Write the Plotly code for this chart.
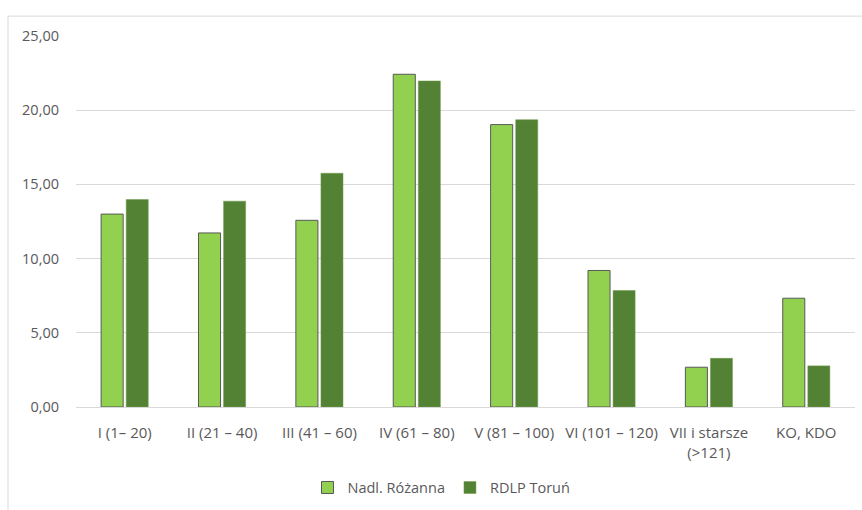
import plotly.graph_objects as go

# Age classes of stands and their area shares (%)
categories = [
    "I (1– 20)", "II (21 – 40)", "III (41 – 60)", "IV (61 – 80)",
    "V (81 – 100)", "VI (101 – 120)", "VII i starsze<br>(>121)", "KO, KDO",
]
nadl_rozanna = [13.00, 11.73, 12.58, 22.42, 19.03, 9.20, 2.68, 7.33]
rdlp_torun = [13.98, 13.87, 15.75, 21.97, 19.36, 7.85, 3.28, 2.77]

y_ticks = [0, 5, 10, 15, 20, 25]

FONT = "Open Sans, Lato, sans-serif"
TEXT = "#595959"
GRID = "#D9D9D9"

fig = go.Figure()
fig.add_trace(go.Bar(
    name="Nadl. Różanna", x=categories, y=nadl_rozanna,
    marker=dict(color="#92D050", line=dict(color="#595959", width=1)),
))
fig.add_trace(go.Bar(
    name="RDLP Toruń", x=categories, y=rdlp_torun,
    marker=dict(color="#548235", line=dict(color="#6E9A4A", width=0.5)),
))

L, R, T, B = 76, 7, 36, 101
W, H = 862, 510
pw, ph = W - L - R, H - T - B

fig.update_layout(
    width=W, height=H,
    margin=dict(l=L, r=R, t=T, b=B, pad=0),
    paper_bgcolor="white", plot_bgcolor="white",
    font=dict(family=FONT, size=13, color=TEXT),
    separators=", ",
    barmode="group", bargap=0.485, bargroupgap=0.12,
    showlegend=True,
    legend=dict(
        orientation="h", x=0.5 - 24 / pw, xanchor="center",
        y=(H - 490 - B) / ph, yanchor="middle",
        font=dict(family=FONT, size=14.5, color=TEXT),
        itemwidth=30, traceorder="normal",
    ),
    xaxis=dict(
        showgrid=False, zeroline=False, showline=False,
        ticks="", ticklabelstandoff=15,
        tickfont=dict(family=FONT, size=15, color=TEXT),
    ),
    yaxis=dict(
        range=[0, 25], tickvals=y_ticks, tickformat=".2f",
        showgrid=True, gridcolor=GRID, gridwidth=1,
        zeroline=True, zerolinecolor=GRID, zerolinewidth=1,
        showline=False, ticks="", ticklabelstandoff=16,
        tickfont=dict(family=FONT, size=14.5, color=TEXT),
    ),
    shapes=[dict(
        type="rect", xref="paper", yref="paper",
        x0=(8 - L) / pw, x1=1.2,
        y0=-1.0, y1=1 + (T - 16) / ph,
        line=dict(color=GRID, width=1), fillcolor="rgba(0,0,0,0)",
        layer="below",
    )],
)

fig.write_html("out.html")
